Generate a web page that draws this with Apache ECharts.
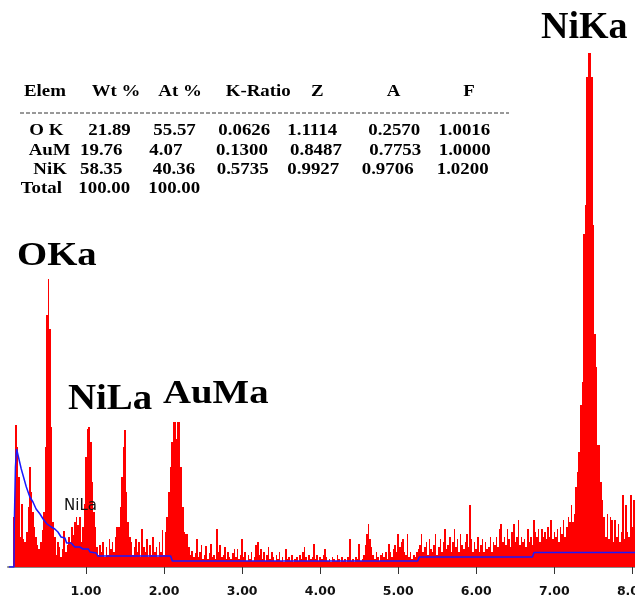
<!DOCTYPE html>
<html><head><meta charset="utf-8">
<script src="https://cdn.jsdelivr.net/npm/echarts@6/dist/echarts.min.js"></script>
<style>html,body{margin:0;padding:0;background:#fff}#c{width:635px;height:599px}</style>
</head><body><div id="c"></div>
<script>
// ---- DATA ----
const startEnergy = 0.08;   // keV of first channel
const channelWidth = 0.02;  // keV per channel
const counts_0 = [50,142,120,90,30,63,28,25,35,60, 100,75,55,40,30,22,18,25,37,55, 120,252,288,238,140,45,30,12,25,20, 10,18,36,15,22,30,25,40,32,45, 50,42,50,25,40,63];
const counts_1 = [110,138,140,125,85,55,40,20,12,22, 15,25,10,20,12,28,18,25,15,30, 40,40,60,90,120,137,75,45,30,25, 12,20,28,15,25,10,38,20,15,28, 10,22,12,30,15,20,10,25,15,37];
const counts_2 = [12,35,50,75,100,125,145,145,128,145, 145,100,60,35,33,33,20,12,16,10, 14,28,10,15,22,8,12,21,8,14, 23,10,12,8,38,15,22,10,12,20, 8,15,10,8,14,18,10,18,8,12];
const counts_3 = [28,10,15,6,12,8,15,6,10,22, 25,12,18,8,15,6,12,20,8,15, 10,6,12,8,15,6,10,5,18,8, 10,6,12,5,8,10,6,12,8,15, 20,10,6,12,8,10,23,8,12,6];
const counts_4 = [10,8,12,18,10,6,8,5,10,8, 6,12,8,5,10,6,8,5,10,28, 6,8,5,10,8,23,6,8,12,22, 33,43,28,20,12,8,15,10,6,12, 14,10,15,8,23,15,10,18,22,15];
const counts_5 = [33,20,25,28,15,12,33,10,15,8, 12,10,15,18,22,33,15,20,25,12, 28,18,15,22,33,12,20,28,15,25, 38,18,22,30,15,25,38,20,28,15, 33,22,18,25,33,20,62,28,15,25];
const counts_6 = [18,30,15,22,28,15,25,18,20,30, 15,25,22,30,20,38,43,25,30,22, 38,28,20,35,43,25,30,47,22,30, 25,28,20,38,25,30,22,47,35,30, 38,25,38,30,35,28,40,30,47,28];
const counts_7 = [35,30,38,25,40,33,47,30,40,50, 45,62,45,53,80,95,115,162,185,333, 362,490,514,514,490,342,233,200,122,122, 85,67,50,30,53,28,50,47,25,47, 30,43,25,35,72,28,62,35,30,72, 40,67,35];
// background fit (energy keV, counts)
const bgEnergy = [0.013,0.077,0.08,0.095,0.11,0.125,0.17,0.235,0.28,0.32,0.36,0.41,0.45,0.5,0.555,0.6,0.64,0.68,0.73,0.75,0.81,0.855,0.92,0.96,1.03,1.05,1.13,1.15,2.085,2.105,5.25,5.27,6.72,6.74,8.1];
const bgCounts = [0,0,40,100,118,118,98,80,70,65,58,53,48,43,40,38,35,30,29,24,24,20,20,18,18,15,14,11,11,6,6,10,10,14.5,14.5];
const tickValues = [1,2,3,4,5,6,7,8];
const tableHeader = ['Elem','Wt %','At %','K-Ratio','Z','A','F'];
const tableRow1 = ['O K','21.89','55.57','0.0626','1.1114','0.2570','1.0016'];
const tableRow2 = ['AuM','19.76','4.07','0.1300','0.8487','0.7753','1.0000'];
const tableRow3 = ['NiK','58.35','40.36','0.5735','0.9927','0.9706','1.0200'];
const tableRow4 = ['Total','100.00','100.00'];
const peakNames = ['NiKa','OKa','NiLa','AuMa'];
const smallLabel = 'NiLa';

// ---- LAYOUT ----
const counts = [].concat(counts_0,counts_1,counts_2,counts_3,counts_4,counts_5,counts_6,counts_7);
const barData = counts.map((v,i)=>[+(startEnergy+i*channelWidth).toFixed(2), v]);
const bgData = bgEnergy.map((e,i)=>[e,bgCounts[i]]);

const tableLayout = [
  {row: tableHeader, y: 92, xs:[24,91.7,158.3,225.7,311,386.7,463.3]},
  {row: tableRow1, y: 131, xs:[29.3,88.3,153.3,218.3,287.3,368.3,438.3]},
  {row: tableRow2, y: 150.7, xs:[28.7,80,149.3,216,290,369.3,438.7]},
  {row: tableRow3, y: 170, xs:[33.3,80,152.7,216.7,287.3,361.7,436.7]},
  {row: tableRow4, y: 189, xs:[20.7,78.3,148.3]}
];
const graphics = [];
tableLayout.forEach(r=>{
  r.row.forEach((t,j)=>{
    graphics.push({type:'text', x:r.xs[j], y:r.y, scaleX:1.18, silent:true,
      style:{text:t, fontFamily:'Liberation Serif', fontWeight:'bold', fontSize:16, fill:'#000', align:'left', verticalAlign:'middle'}});
  });
});
graphics.push({type:'line', silent:true, shape:{x1:20,y1:113,x2:509,y2:113}, style:{stroke:'#333', lineWidth:1, lineDash:[4,2]}});
const peakLayout = [
  {x:541, y:28, fs:38, sx:1.0},
  {x:17, y:256, fs:34, sx:1.14},
  {x:68, y:400, fs:35, sx:1.11},
  {x:163, y:394, fs:34, sx:1.14}
];
peakNames.forEach((t,i)=>{
  const p = peakLayout[i];
  graphics.push({type:'text', x:p.x, y:p.y, scaleX:p.sx, silent:true, z:100,
    style:{text:t, fontFamily:'Liberation Serif', fontWeight:'bold', fontSize:p.fs, fill:'#000', align:'left', verticalAlign:'middle'}});
});
graphics.push({type:'text', x:64, y:506, silent:true, z:100,
  style:{text:smallLabel, fontFamily:'DejaVu Sans', fontSize:15, fill:'#111', align:'left', verticalAlign:'middle'}});

const chart = echarts.init(document.getElementById('c'), null, {renderer:'canvas'});
chart.setOption({
  animation:false,
  backgroundColor:'#fff',
  grid:{left:8, right:0, top:0, bottom:32, containLabel:false, outerBoundsMode:'none'},
  xAxis:[
    {type:'value', min:0, max:8.034, position:'bottom', offset:7,
     axisLine:{show:true, lineStyle:{color:'#8a8a8a', width:2}},
     axisTick:{show:true, inside:false, length:4, customValues:tickValues, lineStyle:{color:'#333', width:1}},
     axisLabel:{customValues:tickValues, formatter:v=>v.toFixed(2), fontFamily:'DejaVu Sans', fontWeight:'bold', fontSize:12.5, color:'#111', margin:11},
     splitLine:{show:false}},
    {type:'value', min:0, max:8.034, position:'bottom', offset:7,
     axisLine:{show:false},
     axisTick:{show:true, inside:true, length:4, customValues:tickValues, lineStyle:{color:'#333', width:1}},
     axisLabel:{show:false}, splitLine:{show:false}}
  ],
  yAxis:{type:'value', min:0, max:567, show:false, splitLine:{show:false}},
  series:[
    {type:'custom', xAxisIndex:0, data:barData, silent:true, clip:false,
     encode:{x:0, y:1},
     renderItem:function(params, api){
       const e = api.value(0), c = api.value(1);
       const half = channelWidth/2;
       const xl = Math.round(api.coord([e-half, 0])[0]);
       const xr = Math.round(api.coord([e+half, 0])[0]);
       const yb = api.coord([e, 0])[1];
       const yt = api.coord([e, c])[1];
       return {type:'rect', shape:{x:xl, y:yt, width:Math.max(1, xr-xl), height:yb-yt}, style:{fill:'#ff0000'}};
     }},
    {type:'line', xAxisIndex:0, data:bgData, showSymbol:false, symbol:'none', lineStyle:{color:'#1818ff', width:1.5}, z:5, silent:true}
  ],
  graphic:graphics
});
</script></body></html>
